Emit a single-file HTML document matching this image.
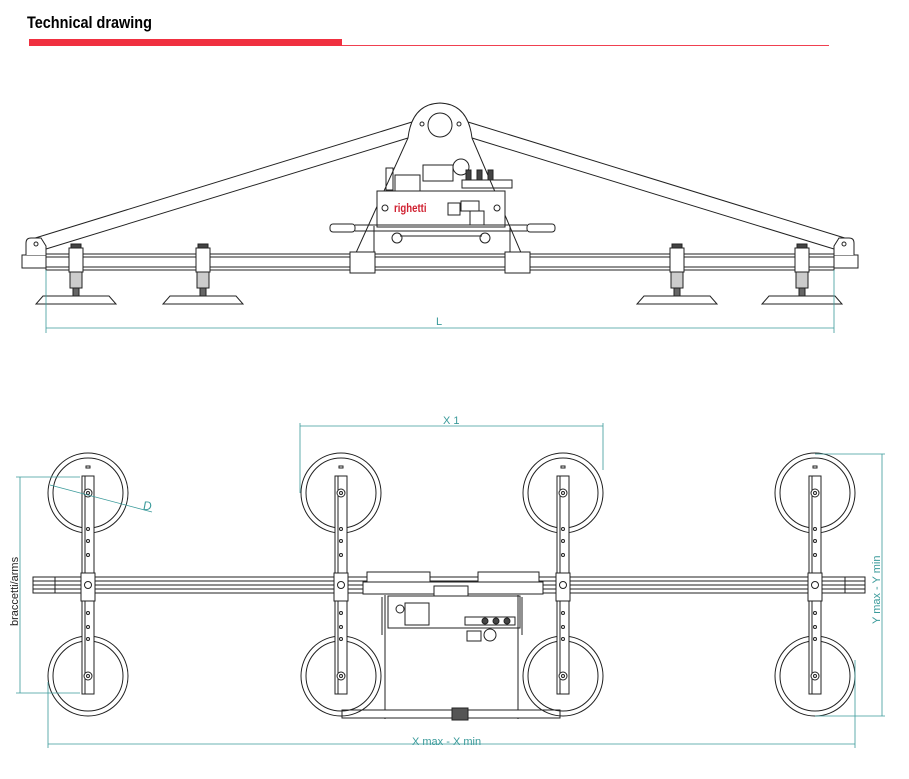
<!DOCTYPE html>
<html><head><meta charset="utf-8"><style>
html,body{margin:0;padding:0;background:#fff;}
svg{display:block;}
text{font-family:"Liberation Sans",sans-serif;}
</style></head><body>
<svg width="909" height="779" viewBox="0 0 909 779" xmlns="http://www.w3.org/2000/svg">
<defs>
<g id="sidecup" fill="#fff" stroke="#222" stroke-width="1">
  <rect x="-5" y="-12" width="10" height="4" fill="#444"/>
  <rect x="-7" y="-8" width="14" height="24"/>
  <rect x="-6" y="16" width="12" height="16" fill="#ccc"/>
  <rect x="-3" y="32" width="6" height="8" fill="#666"/>
  <path d="M-33 40 L33 40 L40 48 L-40 48 Z"/>
</g>
<g id="plancol" fill="none" stroke="#222" stroke-width="1">
  <circle cx="0" cy="0" r="40"/><circle cx="0" cy="0" r="35"/>
  <circle cx="0" cy="183" r="40"/><circle cx="0" cy="183" r="35"/>
  <rect x="-6" y="-17" width="12" height="218" fill="#fff"/>
  <line x1="-3" y1="-17" x2="-3" y2="201"/>
  <circle cx="0" cy="0" r="4" fill="#fff"/><circle cx="0" cy="0" r="1.5"/>
  <circle cx="0" cy="183" r="4" fill="#fff"/><circle cx="0" cy="183" r="1.5"/>
  <circle cx="0" cy="36" r="1.5"/><circle cx="0" cy="48" r="1.5"/><circle cx="0" cy="62" r="1.5"/>
  <circle cx="0" cy="120" r="1.5"/><circle cx="0" cy="134" r="1.5"/><circle cx="0" cy="146" r="1.5"/>
  <rect x="-7" y="80" width="14" height="28" fill="#fff"/>
  <circle cx="0" cy="92" r="3.5"/>
  <path d="M-2 -27 h4 v2 h-4z"/>
</g>
</defs>

<text x="27" y="28" font-size="17" font-weight="bold" fill="#000" transform="translate(27 0) scale(0.85 1) translate(-27 0)">Technical drawing</text>
<rect x="29" y="39" width="313" height="7" fill="#f03040"/>
<rect x="342" y="45" width="487" height="1" fill="#f04050"/>

<g fill="none" stroke="#222" stroke-width="1">
  <line x1="32" y1="239" x2="412" y2="122"/>
  <line x1="46" y1="249" x2="408" y2="138"/>
  <line x1="848" y1="239" x2="468" y2="122"/>
  <line x1="834" y1="249" x2="472" y2="138"/>
  <path d="M355 255 L408 138 Q412 104 440 103 Q468 104 472 138 L522 255" fill="#fff"/>
  <circle cx="440" cy="125" r="12"/>
  <circle cx="422" cy="124" r="2"/><circle cx="459" cy="124" r="2"/>
  <rect x="423" y="165" width="30" height="16"/>
  <circle cx="461" cy="167" r="8"/>
  <rect x="462" y="180" width="50" height="8"/>
  <rect x="466" y="170" width="5" height="10" fill="#444"/><rect x="477" y="170" width="5" height="10" fill="#444"/><rect x="488" y="170" width="5" height="10" fill="#444"/>
  <rect x="395" y="175" width="25" height="16"/>
  <rect x="386" y="168" width="7" height="22"/>
  <rect x="377" y="191" width="128" height="36" fill="#fff"/>
  <circle cx="385" cy="208" r="3"/><circle cx="497" cy="208" r="3"/>
  <rect x="448" y="203" width="12" height="12"/><rect x="461" y="201" width="18" height="10"/>
  <rect x="470" y="211" width="14" height="14"/>
  <rect x="330" y="224" width="25" height="8" rx="3"/>
  <rect x="527" y="224" width="28" height="8" rx="3"/>
  <line x1="355" y1="225" x2="527" y2="225"/><line x1="355" y1="231" x2="527" y2="231"/>
  <line x1="374" y1="226" x2="374" y2="272"/><line x1="510" y1="226" x2="510" y2="272"/>
  <circle cx="397" cy="238" r="5"/><circle cx="485" cy="238" r="5"/>
  <line x1="400" y1="236" x2="482" y2="236"/>
  <rect x="46" y="254" width="788" height="16" fill="#fff"/>
  <line x1="46" y1="257" x2="834" y2="257"/><line x1="46" y1="267" x2="834" y2="267"/>
  <rect x="22" y="255" width="24" height="13" fill="#fff"/>
  <rect x="834" y="255" width="24" height="13" fill="#fff"/>
  <path d="M26 255 v-12 q0 -5 5 -5 h10 l5 8 v9" fill="#fff"/><circle cx="36" cy="244" r="2"/>
  <path d="M854 255 v-12 q0 -5 -5 -5 h-10 l-5 8 v9" fill="#fff"/><circle cx="844" cy="244" r="2"/>
  <rect x="350" y="252" width="25" height="21" fill="#fff"/>
  <rect x="505" y="252" width="25" height="21" fill="#fff"/>
</g>
<text x="394" y="212" font-size="12" font-weight="bold" fill="#d02030" transform="translate(394 0) scale(0.8 1) translate(-394 0)">righetti</text>
<use href="#sidecup" x="76" y="256"/>
<use href="#sidecup" x="203" y="256"/>
<use href="#sidecup" x="677" y="256"/>
<use href="#sidecup" x="802" y="256"/>

<g stroke="#3a9a9a" stroke-width="0.8" fill="none">
  <line x1="46" y1="270" x2="46" y2="333"/>
  <line x1="834" y1="270" x2="834" y2="333"/>
  <line x1="46" y1="328" x2="834" y2="328"/>
</g>
<text x="436" y="325" font-size="11" fill="#3a9a9a">L</text>

<g fill="none" stroke="#222" stroke-width="1">
  <rect x="33" y="577" width="832" height="16" fill="#fff"/>
  <line x1="33" y1="581" x2="865" y2="581"/><line x1="33" y1="585" x2="865" y2="585"/><line x1="33" y1="589" x2="865" y2="589"/>
  <line x1="55" y1="577" x2="55" y2="593"/><line x1="845" y1="577" x2="845" y2="593"/>
  <rect x="367" y="572" width="63" height="10" fill="#fff"/>
  <rect x="478" y="572" width="61" height="10" fill="#fff"/>
  <rect x="363" y="582" width="180" height="12" fill="#fff"/>
  <rect x="434" y="586" width="34" height="22" fill="#fff"/>
  <rect x="388" y="596" width="132" height="32" fill="#fff"/>
  <rect x="405" y="603" width="24" height="22"/>
  <circle cx="400" cy="609" r="4"/>
  <rect x="465" y="617" width="50" height="8"/>
  <circle cx="485" cy="621" r="3" fill="#444"/><circle cx="496" cy="621" r="3" fill="#444"/><circle cx="507" cy="621" r="3" fill="#444"/>
  <rect x="467" y="631" width="14" height="10"/><circle cx="490" cy="635" r="6"/>
  <line x1="385" y1="595" x2="385" y2="719"/><line x1="518" y1="595" x2="518" y2="719"/>
  <line x1="382" y1="597" x2="382" y2="635"/><line x1="522" y1="597" x2="522" y2="635"/>
  <rect x="342" y="710" width="218" height="8" fill="#fff"/>
  <rect x="452" y="708" width="16" height="12" fill="#555"/>
</g>
<use href="#plancol" x="88" y="493"/>
<use href="#plancol" x="341" y="493"/>
<use href="#plancol" x="563" y="493"/>
<use href="#plancol" x="815" y="493"/>

<g stroke="#3a9a9a" stroke-width="0.8" fill="none">
  <line x1="300" y1="423" x2="300" y2="493"/>
  <line x1="603" y1="423" x2="603" y2="470"/>
  <line x1="300" y1="426" x2="603" y2="426"/>
  <line x1="16" y1="477" x2="80" y2="477"/>
  <line x1="16" y1="693" x2="80" y2="693"/>
  <line x1="20" y1="477" x2="20" y2="693"/>
  <line x1="50" y1="485" x2="152" y2="512"/>
  <line x1="815" y1="454" x2="885" y2="454"/>
  <line x1="815" y1="716" x2="885" y2="716"/>
  <line x1="882" y1="454" x2="882" y2="716"/>
  <line x1="48" y1="682" x2="48" y2="748"/>
  <line x1="855" y1="660" x2="855" y2="748"/>
  <line x1="48" y1="744" x2="855" y2="744"/>
</g>
<text x="443" y="424" font-size="11" fill="#3a9a9a">X 1</text>
<text x="143" y="510" font-size="12" font-style="italic" fill="#3a9a9a">D</text>
<text x="412" y="745" font-size="11" fill="#3a9a9a">X max - X min</text>
<text font-size="11" fill="#222" transform="translate(18 626) rotate(-90)">braccetti/arms</text>
<text font-size="11" fill="#3a9a9a" transform="translate(880 624) rotate(-90)">Y max - Y min</text>
</svg>
</body></html>
